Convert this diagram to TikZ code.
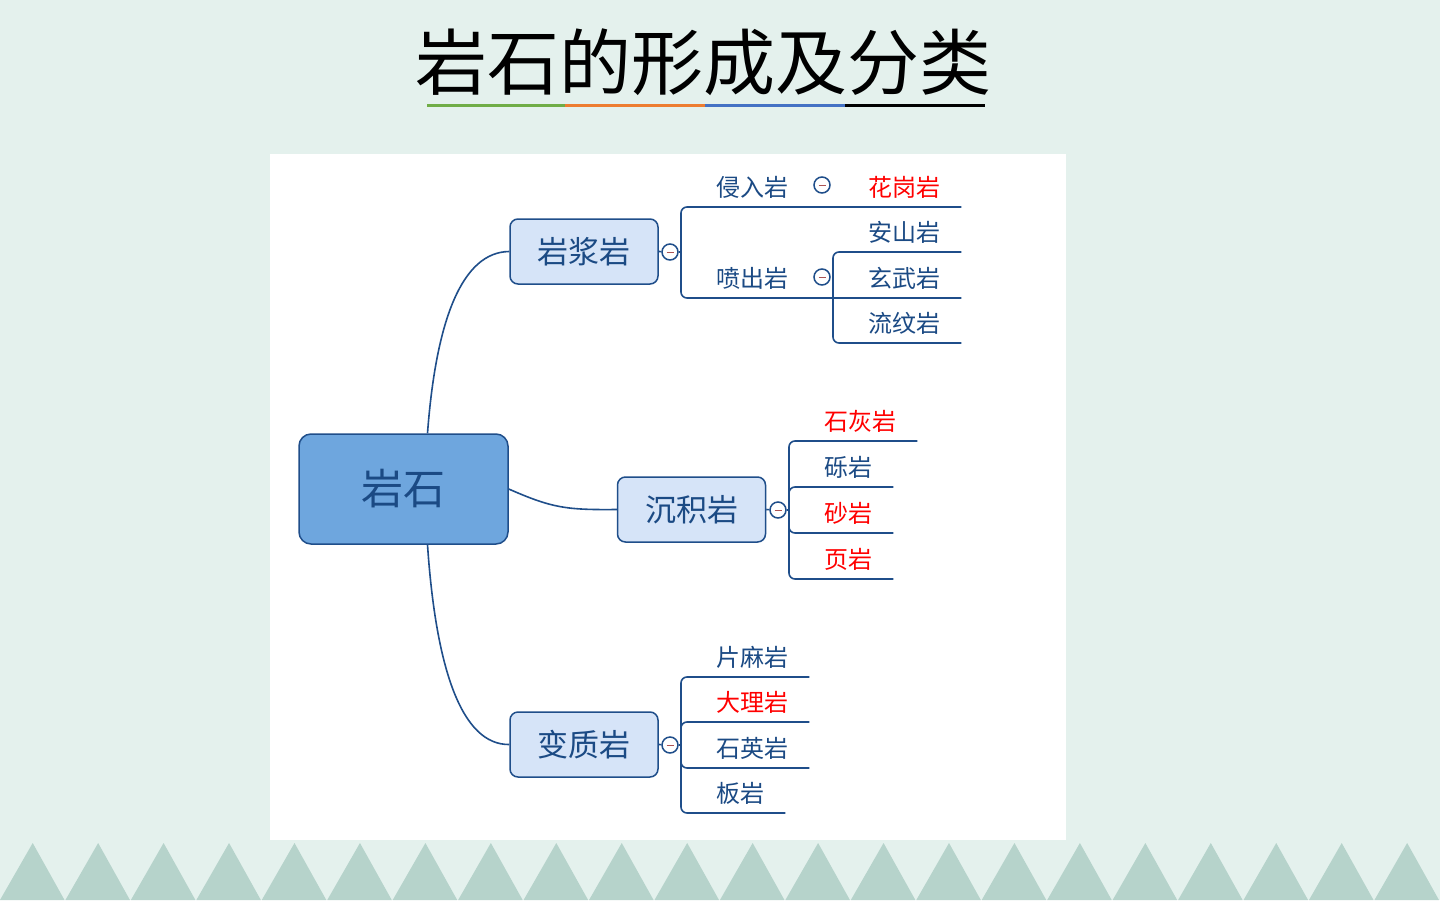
\documentclass[tikz,border=0pt]{standalone}
\usepackage{fontspec}
\newfontfamily\cjk{Noto Sans CJK SC}
\usetikzlibrary{calc}
\definecolor{bgGreen}{HTML}{E4F1ED}
\definecolor{triGreen}{HTML}{B6D3CB}
\definecolor{lineBlue}{HTML}{1F4E8A}
\definecolor{textBlue}{HTML}{1B4A84}
\definecolor{rootFill}{HTML}{6EA6DE}
\definecolor{topicFill}{HTML}{D6E4F8}
\definecolor{leafRed}{HTML}{FF0000}
\definecolor{barGreen}{HTML}{70AD47}
\definecolor{barOrange}{HTML}{ED7D31}
\definecolor{barBlue}{HTML}{4472C4}

\begin{document}
\begin{tikzpicture}[x=1pt, y=-1pt,
    rootbox/.style={rectangle, rounded corners=12pt, draw=lineBlue, fill=rootFill,
                line width=1.5pt, minimum width=209pt, minimum height=110pt,
                font=\cjk\fontsize{42}{50}\selectfont, text=textBlue},
    topic/.style={rectangle, rounded corners=8pt, draw=lineBlue, fill=topicFill,
                line width=1.5pt, minimum width=148pt, minimum height=65pt,
                font=\cjk\fontsize{31}{36}\selectfont, text=textBlue},
    leaf/.style={anchor=base west, inner sep=0pt,
                font=\cjk\fontsize{24}{28}\selectfont, text=#1},
    leaf/.default=textBlue,
    fold/.style={circle, draw=lineBlue, fill=white, line width=1.5pt,
                minimum size=16pt, inner sep=0pt,
                path picture={\draw[red!35!gray, line width=1pt]
                  ([xshift=-3.5pt]path picture bounding box.center) --
                  ([xshift=3.5pt]path picture bounding box.center);}},
    link/.style={draw=lineBlue, line width=1.6pt},
    branch/.style={draw=lineBlue, line width=1.6pt, rounded corners=6pt},
  ]
    \useasboundingbox (0,0) rectangle (1440,900);
    \fill[bgGreen] (0,0) rectangle (1440,900);
    \foreach \i in {0,...,21}
      \fill[triGreen] (65.45*\i,900) -- (65.45*\i+32.7,843) -- (65.45*\i+64.5,900) -- cycle;
    \fill[white] (270,154) rectangle (1066,840);

    % title
    \node[font=\cjk\fontsize{72}{80}\selectfont] (title) at (703,62) {岩石的形成及分类};
    \draw[barGreen, line width=3pt] (427,105) -- (565,105);
    \draw[barOrange, line width=3pt] (565,105) -- (705,105);
    \draw[barBlue, line width=3pt] (705,105) -- (845,105);
    \draw[black, line width=3pt] (845,105) -- (985,105);

    % main topics
    \node[rootbox] (rock) at (403.5,489) {岩石};
    \node[topic] (magma) at (584,251.5) {岩浆岩};
    \node[topic] (sediment) at (691.5,509.5) {沉积岩};
    \node[topic] (meta) at (584,744.5) {变质岩};

    \draw[link] ([xshift=24pt]rock.north) .. controls (436,320) and (462,252) .. (magma.west);
    \draw[link] (rock.east) .. controls (552,508) and (566,510) .. (sediment.west);
    \draw[link] ([xshift=24pt]rock.south) .. controls (436,670) and (462,745) .. (meta.west);

    \coordinate (magmaStem) at (681,252);
    \coordinate (penchuStem) at (833,298);
    \coordinate (sedStem) at (789,510);
    \coordinate (metaStem) at (681,745);

    % leaves
    \node[leaf] (qinru) at (716,196) {侵入岩};
    \node[leaf=leafRed] (huagang) at (868,196) {花岗岩};
    \node[leaf] (penchu) at (716,287) {喷出岩};
    \node[leaf] (anshan) at (868,241) {安山岩};
    \node[leaf] (xuanwu) at (868,287) {玄武岩};
    \node[leaf] (liuwen) at (868,332) {流纹岩};

    \node[leaf=leafRed] (shihui) at (824,430) {石灰岩};
    \node[leaf] (liyan) at (824,476) {砾岩};
    \node[leaf=leafRed] (shayan) at (824,522) {砂岩};
    \node[leaf=leafRed] (yeyan) at (824,568) {页岩};

    \node[leaf] (pianma) at (716,666) {片麻岩};
    \node[leaf=leafRed] (dali) at (716,711) {大理岩};
    \node[leaf] (shiying) at (716,757) {石英岩};
    \node[leaf] (banyan) at (716,802) {板岩};

    % branches
    \draw[branch] (magmaStem) |- ([shift={(21pt,-11pt)}]huagang.base east);
    \draw[branch] (magmaStem) |- ([shift={(21pt,-11pt)}]xuanwu.base east);
    \draw[branch] (penchuStem) |- ([shift={(21pt,-11pt)}]anshan.base east);
    \draw[branch] (penchuStem) |- ([shift={(21pt,-11pt)}]liuwen.base east);
    \foreach \n in {shihui, liyan, shayan, yeyan}
      \draw[branch] (sedStem) |- ([shift={(21pt,-11pt)}]\n.base east);
    \foreach \n in {pianma, dali, shiying, banyan}
      \draw[branch] (metaStem) |- ([shift={(21pt,-11pt)}]\n.base east);

    % fold buttons
    \node[fold] (magmaFold) at (670,252) {};
    \node[fold] (sedFold) at (778,510) {};
    \node[fold] (metaFold) at (670,745) {};
    \node[fold] (qinruFold) at (822,185) {};
    \node[fold] (penchuFold) at (822,277) {};
    \draw[link] (magma.east) -- (magmaFold) -- (magmaStem);
    \draw[link] (sediment.east) -- (sedFold) -- (sedStem);
    \draw[link] (meta.east) -- (metaFold) -- (metaStem);
  \end{tikzpicture}
\end{document}
